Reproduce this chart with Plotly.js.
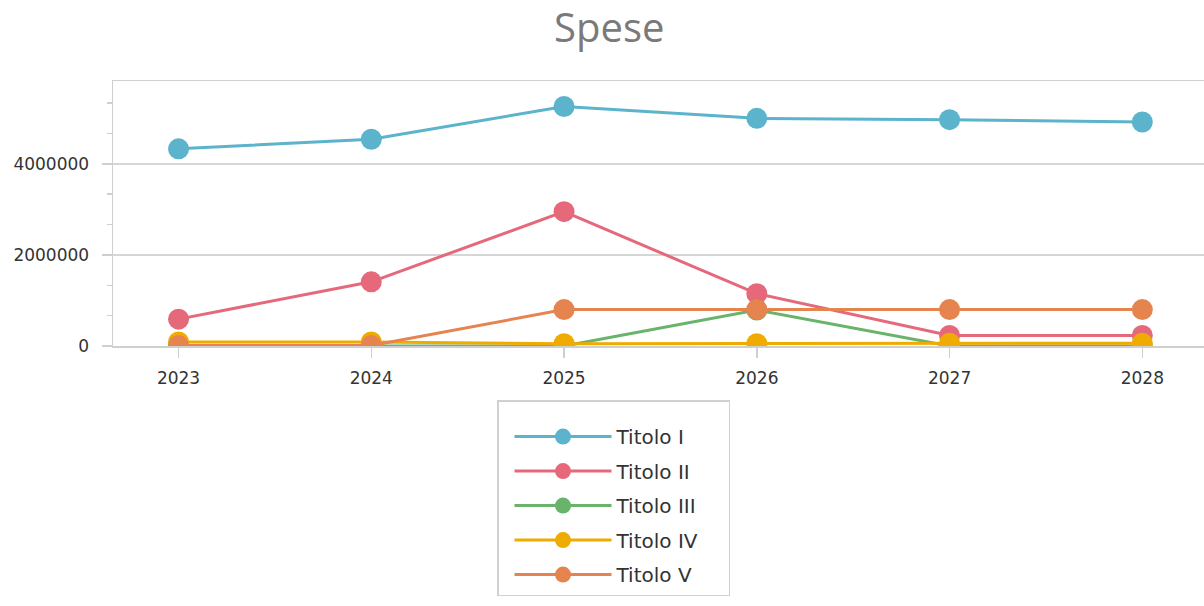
<!DOCTYPE html>
<html>
<head>
<meta charset="utf-8">
<script src="https://cdn.plot.ly/plotly-3.0.1.min.js"></script>
<style>html,body{margin:0;padding:0;background:#fff;}#chart{width:1204px;height:606px;}</style>
</head>
<body>
<div id="chart"></div>
<script>
const years = [2023, 2024, 2025, 2026, 2027, 2028];
const seriesNames = ["Titolo I", "Titolo II", "Titolo III", "Titolo IV", "Titolo V"];
const titoloI = [4330000, 4540000, 5260000, 5000000, 4970000, 4920000];
const titoloII = [590000, 1410000, 2950000, 1150000, 230000, 230000];
const titoloIII = [0, 0, 0, 790000, 0, 0];
const titoloIV = [90000, 90000, 50000, 50000, 60000, 60000];
const titoloV = [10000, 10000, 800000, 800000, 800000, 800000];
const yTickVals = [0, 2000000, 4000000];
const yTickText = ["0", "2000000", "4000000"];

const colors = ["#5bb3cc", "#e5687b", "#69b46a", "#f0ab00", "#e6844f"];
const allSeries = [titoloI, titoloII, titoloIII, titoloIV, titoloV];

const traces = allSeries.map((vals, i) => ({
  type: "scatter",
  mode: "lines+markers",
  name: seriesNames[i],
  legendgroup: "g" + i,
  x: years,
  y: vals,
  line: {color: colors[i], width: 3},
  marker: {color: colors[i], size: 21},
  hoverinfo: "x+y+name"
}));

const layout = {
  width: 1204,
  height: 606,
  paper_bgcolor: "#ffffff",
  plot_bgcolor: "#ffffff",
  margin: {l: 113, r: 0, t: 81, b: 260, pad: 0, autoexpand: false},
  font: {family: "DejaVu Sans, sans-serif", color: "#3a3a3a"},
  title: {
    text: "Spese",
    font: {family: "Open Sans, sans-serif", size: 40, color: "#7a7a7a"},
    x: 0.506, xref: "container", xanchor: "center",
    y: 1 - 28 / 606, yref: "container", yanchor: "middle"
  },
  showlegend: true,
  legend: {
    xref: "container", yref: "container",
    x: 497 / 1204, xanchor: "left",
    y: 1 - 400 / 606, yanchor: "top",
    bgcolor: "#ffffff",
    bordercolor: "#d0d0d0",
    borderwidth: 1.5,
    font: {family: "DejaVu Sans, sans-serif", size: 20, color: "#333333"},
    title: {text: "\u00a0".repeat(59), font: {size: 12}},
    tracegroupgap: 5.5,
    traceorder: "grouped",
    itemwidth: 97,
    indentation: 11
  },
  xaxis: {
    type: "linear",
    range: [2022.66, 2028.32],
    tickvals: years,
    ticktext: years.map(String),
    ticks: "outside",
    ticklen: 10,
    tickwidth: 1.5,
    tickcolor: "#cfcfcf",
    showgrid: false,
    zeroline: false,
    showline: true,
    mirror: true,
    linecolor: "#cfcfcf",
    linewidth: 1.5,
    ticklabelstandoff: 6,
    tickfont: {family: "DejaVu Sans, sans-serif", size: 17, color: "#333333"}
  },
  yaxis: {
    range: [0, 5820000],
    tickvals: yTickVals,
    ticktext: yTickText,
    ticks: "outside",
    ticklen: 10,
    tickwidth: 1.5,
    tickcolor: "#cfcfcf",
    showgrid: true,
    gridcolor: "#d6d6d6",
    gridwidth: 1.5,
    zeroline: false,
    showline: true,
    linecolor: "#cfcfcf",
    linewidth: 1.5,
    ticklabelstandoff: 9,
    tickfont: {family: "DejaVu Sans, sans-serif", size: 17, color: "#333333"},
    minor: {
      dtick: 2000000 / 3,
      tick0: 0,
      ticks: "outside",
      ticklen: 5,
      tickwidth: 1.5,
      tickcolor: "#cfcfcf",
      showgrid: false
    }
  }
};

Plotly.newPlot("chart", traces, layout, {displayModeBar: false, staticPlot: true});
</script>
</body>
</html>
